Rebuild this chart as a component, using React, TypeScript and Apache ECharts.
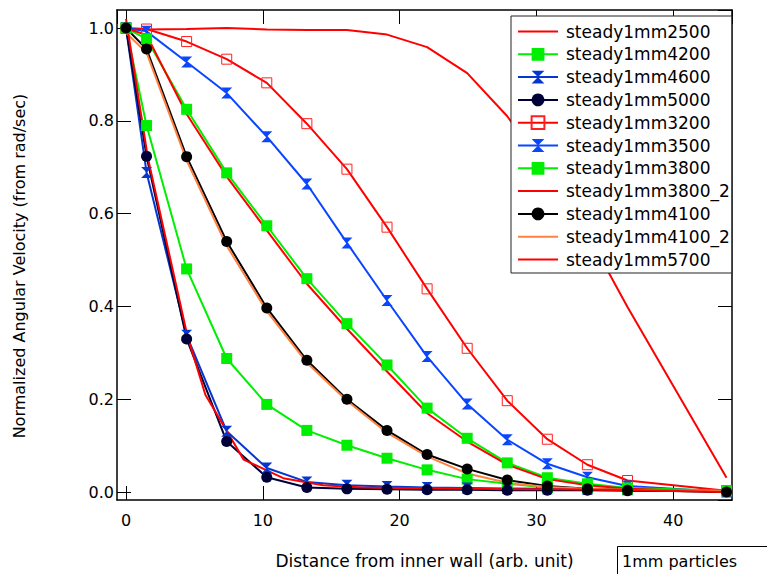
import React, { useEffect, useRef } from 'react';
import * as echarts from 'echarts';

// Shared x grid (distance from inner wall, arb. unit)
const xGrid = [0, 1.5, 4.43, 7.36, 10.29, 13.22, 16.15, 19.08, 22.01, 24.94, 27.87, 30.8, 33.73, 36.66, 43.9];
const x5700 = [0, 1.6, 4.5, 5.8, 8.6, 11.5, 14.4, 17.3, 20.2, 23.1, 26.0, 28.9, 31.8, 34.7, 37.6, 43.9];

const v2500 = [0.998, 0.997, 0.998, 1.0, 0.997, 0.996, 0.996, 0.986, 0.959, 0.903, 0.81, 0.692, 0.557, 0.399, 0.031];
const v4200 = [1.0, 0.79, 0.481, 0.288, 0.189, 0.133, 0.101, 0.073, 0.048, 0.028, 0.018, 0.01, 0.008, 0.006, 0.003];
const v4600 = [1.0, 0.689, 0.338, 0.131, 0.052, 0.022, 0.015, 0.012, 0.01, 0.009, 0.008, 0.007, 0.006, 0.005, 0.003];
const v5000 = [1.0, 0.724, 0.33, 0.109, 0.032, 0.01, 0.007, 0.006, 0.005, 0.005, 0.004, 0.004, 0.004, 0.003, 0.002];
const v3200 = [1.0, 0.998, 0.971, 0.933, 0.882, 0.794, 0.696, 0.571, 0.438, 0.31, 0.197, 0.114, 0.059, 0.025, 0.003];
const v3500 = [1.0, 0.993, 0.927, 0.86, 0.766, 0.664, 0.537, 0.413, 0.292, 0.19, 0.113, 0.061, 0.032, 0.013, 0.0];
const v3800 = [1.0, 0.977, 0.825, 0.688, 0.574, 0.46, 0.363, 0.274, 0.181, 0.116, 0.063, 0.031, 0.018, 0.009, 0.003];
const v3800b = [1.0, 0.985, 0.815, 0.68, 0.564, 0.449, 0.352, 0.26, 0.17, 0.109, 0.059, 0.028, 0.015, 0.007, 0.0];
const v4100 = [1.0, 0.955, 0.723, 0.54, 0.397, 0.284, 0.2, 0.133, 0.081, 0.05, 0.026, 0.013, 0.007, 0.004, 0.0];
const v4100b = [0.99, 0.947, 0.715, 0.531, 0.39, 0.279, 0.197, 0.128, 0.077, 0.04, 0.02, 0.011, 0.007, 0.005, 0.002];
const v5700 = [1.02, 0.72, 0.335, 0.21, 0.07, 0.03, 0.015, 0.01, 0.009, 0.008, 0.007, 0.006, 0.006, 0.005, 0.004, 0.0];

const seriesNames = [
  'steady1mm2500', 'steady1mm4200', 'steady1mm4600', 'steady1mm5000', 'steady1mm3200', 'steady1mm3500',
  'steady1mm3800', 'steady1mm3800_2', 'steady1mm4100', 'steady1mm4100_2', 'steady1mm5700',
];

const xTitle = 'Distance from inner wall (arb. unit)';
const yTitle = 'Normalized Angular Velocity (from rad/sec)';
const noteText = '1mm particles';

const FONT = 'DejaVu Sans';
const BOWTIE = 'path://M0,0L10,0L5,5L10,10L0,10L5,5Z';
const CLEAR = 'rgba(0,0,0,0)';

const pair = (xs: number[], vs: number[]) => vs.map((v, i) => [xs[i], v]);

export default function App() {
  const ref = useRef<HTMLDivElement>(null);
  useEffect(() => {
    if (!ref.current) return;
    const chart = echarts.init(ref.current, undefined, { renderer: 'svg' });

    const mk = (
      name: string,
      data: number[][],
      color: string,
      symbol: string,
      symbolSize: number,
      extra: any = {}
    ) => ({
      name,
      type: 'line',
      data,
      xAxisIndex: 0,
      yAxisIndex: 0,
      symbol: symbol === 'none' ? 'circle' : symbol,
      symbolSize,
      showSymbol: symbol !== 'none',
      lineStyle: { color, width: 2 },
      itemStyle: { color: symbol === 'none' ? CLEAR : color },
      emphasis: { disabled: true },
      ...extra,
    });

    const series = [
      mk(seriesNames[0], pair(xGrid, v2500), '#ff0000', 'none', 0),
      mk(seriesNames[1], pair(xGrid, v4200), '#00ee00', 'rect', 11),
      mk(seriesNames[2], pair(xGrid, v4600), '#0636d0', BOWTIE, 11),
      mk(seriesNames[3], pair(xGrid, v5000), '#000038', 'circle', 11),
      mk(seriesNames[4], pair(xGrid, v3200), '#ff0000', 'rect', 10, {
        itemStyle: { color: CLEAR, borderColor: '#ff2020', borderWidth: 1 },
      }),
      mk(seriesNames[5], pair(xGrid, v3500), '#0a46ff', BOWTIE, 11),
      mk(seriesNames[6], pair(xGrid, v3800), '#00ee00', 'rect', 11),
      mk(seriesNames[7], pair(xGrid, v3800b), '#ff0000', 'none', 0),
      mk(seriesNames[8], pair(xGrid, v4100), '#000000', 'circle', 11),
      mk(seriesNames[9], pair(xGrid, v4100b), '#ff8040', 'none', 0),
      mk(seriesNames[10], pair(x5700, v5700), '#ff0000', 'none', 0),
    ];

    const axisCommon = {
      axisLine: { show: true, onZero: false, lineStyle: { color: '#000', width: 1.5 } },
      axisTick: { show: true, inside: true, length: 14, lineStyle: { color: '#000', width: 1 } },
      splitLine: { show: false },
    };

    chart.setOption({
      animation: false,
      backgroundColor: '#fff',
      grid: { left: 117, right: 35, top: 10, bottom: 72, containLabel: false },
      xAxis: [
        {
          type: 'value', position: 'bottom', min: -0.66, max: 44.3, splitNumber: 5,
          ...axisCommon,
          axisLabel: {
            show: true, margin: 12, fontFamily: FONT, fontSize: 16, color: '#000',
            showMinLabel: false, showMaxLabel: false,
          },
          name: xTitle, nameLocation: 'middle', nameGap: 52,
          nameTextStyle: { fontFamily: FONT, fontSize: 17, color: '#000' },
        },
        {
          type: 'value', position: 'top', min: -0.66, max: 44.3, splitNumber: 5,
          ...axisCommon,
          axisLabel: { show: false },
        },
      ],
      yAxis: [
        {
          type: 'value', position: 'left', min: -0.017, max: 1.039, splitNumber: 5,
          ...axisCommon,
          axisLabel: {
            show: true, margin: 3, fontFamily: FONT, fontSize: 16, color: '#000',
            showMinLabel: false, showMaxLabel: false,
            formatter: (v: number) => v.toFixed(1),
          },
        },
        {
          type: 'value', position: 'right', min: -0.017, max: 1.039, splitNumber: 5,
          ...axisCommon,
          axisLabel: { show: false },
        },
      ],
      legend: {
        orient: 'vertical', left: 511, top: 16,
        padding: [7, 2, 5, 6],
        itemWidth: 40, itemHeight: 16, itemGap: 5.8,
        backgroundColor: '#fff', borderColor: '#222', borderWidth: 1, borderRadius: 0,
        selectedMode: false,
        textStyle: { fontFamily: FONT, fontSize: 17, color: '#000', padding: [0, 0, 0, 3] },
        data: seriesNames,
      },
      graphic: [
        {
          type: 'text', x: 19, y: 266, rotation: Math.PI / 2, z: 100,
          style: {
            text: yTitle, fontFamily: FONT, fontSize: 16, fill: '#000',
            align: 'center', verticalAlign: 'middle',
          },
        },
        {
          type: 'rect', left: 617, top: 546, z: 100,
          shape: { width: 200, height: 60 },
          style: { fill: '#fff', stroke: '#000', lineWidth: 1 },
        },
        {
          type: 'text', left: 622, top: 553, z: 101,
          style: { text: noteText, fontFamily: FONT, fontSize: 16, fill: '#000' },
        },
      ],
      series,
    });
    return () => chart.dispose();
  }, []);

  return (
    <div
      ref={ref}
      style={{ position: 'fixed', left: 0, top: 0, width: 767, height: 574, background: '#fff' }}
    />
  );
}
